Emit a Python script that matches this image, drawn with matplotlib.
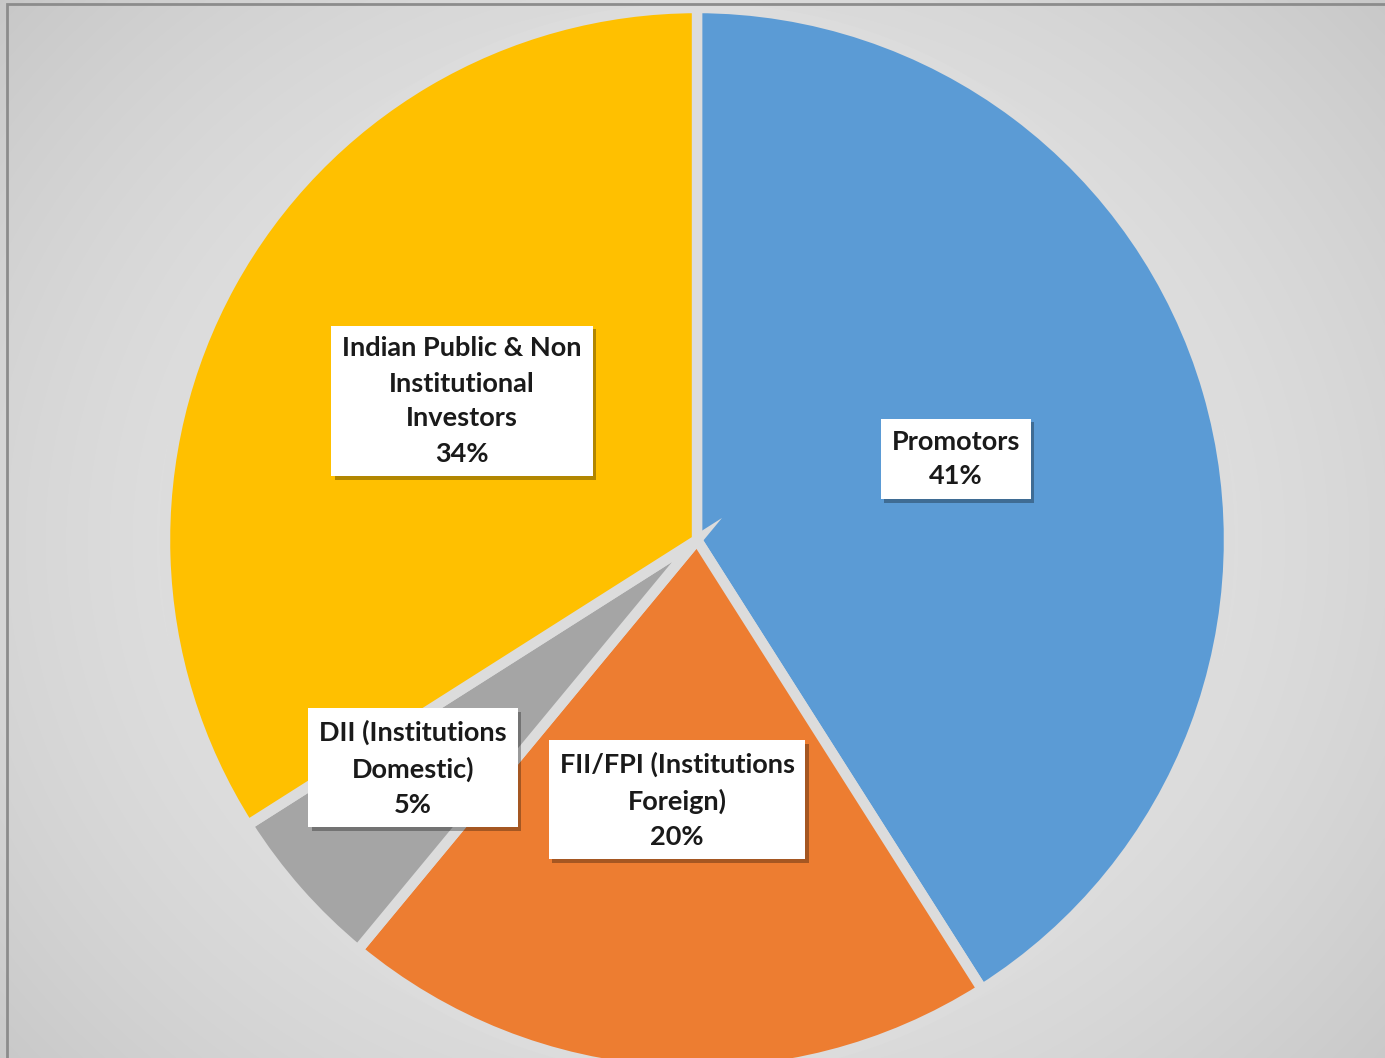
import numpy as np
import matplotlib
matplotlib.use('Agg')
import matplotlib.pyplot as plt
import matplotlib.patheffects as pe
from matplotlib.patches import Rectangle

# shareholding pattern
labels = ['Promotors', 'FII/FPI (Institutions\nForeign)', 'DII (Institutions\nDomestic)',
          'Indian Public & Non\nInstitutional\nInvestors']
shares = [41, 20, 5, 34]
colors = ['#5B9BD5', '#ED7D31', '#A5A5A5', '#FFC000']

# label box centres (pixel coords, y from bottom)
label_pos = [(956, 1058 - 459), (677, 1058 - 800), (413, 1058 - 768), (462, 1058 - 401)]

W, H = 1385, 1058
fig = plt.figure(figsize=(W / 100, H / 100), dpi=100)
ax = fig.add_axes([0, 0, 1, 1])

# radial grey background
yy, xx = np.mgrid[0:H, 0:W]
d = np.sqrt(((xx - 697) / 900.0) ** 2 + ((yy - 540) / 800.0) ** 2)
bg = 0.91 - 0.12 * np.clip(d, 0, 1.3) ** 2
ax.imshow(np.dstack([bg] * 3), extent=(0, W, 0, H), origin='upper', zorder=0,
          interpolation='bilinear')

wedges, _ = ax.pie(shares, colors=colors, startangle=90, counterclock=False,
                   center=(697, H - 540), radius=532, frame=True,
                   wedgeprops=dict(edgecolor='#DCDCDC', linewidth=7.5))
for w in wedges:
    w.set_zorder(2)

fs = 19.5
for lab, s, (x, y) in zip(labels, shares, label_pos):
    t = ax.text(x, y, f'{lab}\n{s}%', ha='center', va='center', fontsize=fs,
                fontweight='bold', family='Lato', linespacing=1.55, color='#1a1a1a',
                zorder=4, bbox=dict(boxstyle='square,pad=0.4', fc='white', ec='none'))
    t.get_bbox_patch().set_path_effects([
        pe.SimplePatchShadow(offset=(2.5, -2.5), shadow_rgbFace='black', alpha=0.3),
        pe.Normal()])

# chart area border
ax.add_patch(Rectangle((7, -20), W + 50, H - 4 + 20, fill=False, ec='#8C8C8C', lw=2, zorder=5))

ax.set_xlim(0, W)
ax.set_ylim(0, H)
ax.set_aspect('equal')
ax.axis('off')
fig.savefig('out.png', dpi=100)
